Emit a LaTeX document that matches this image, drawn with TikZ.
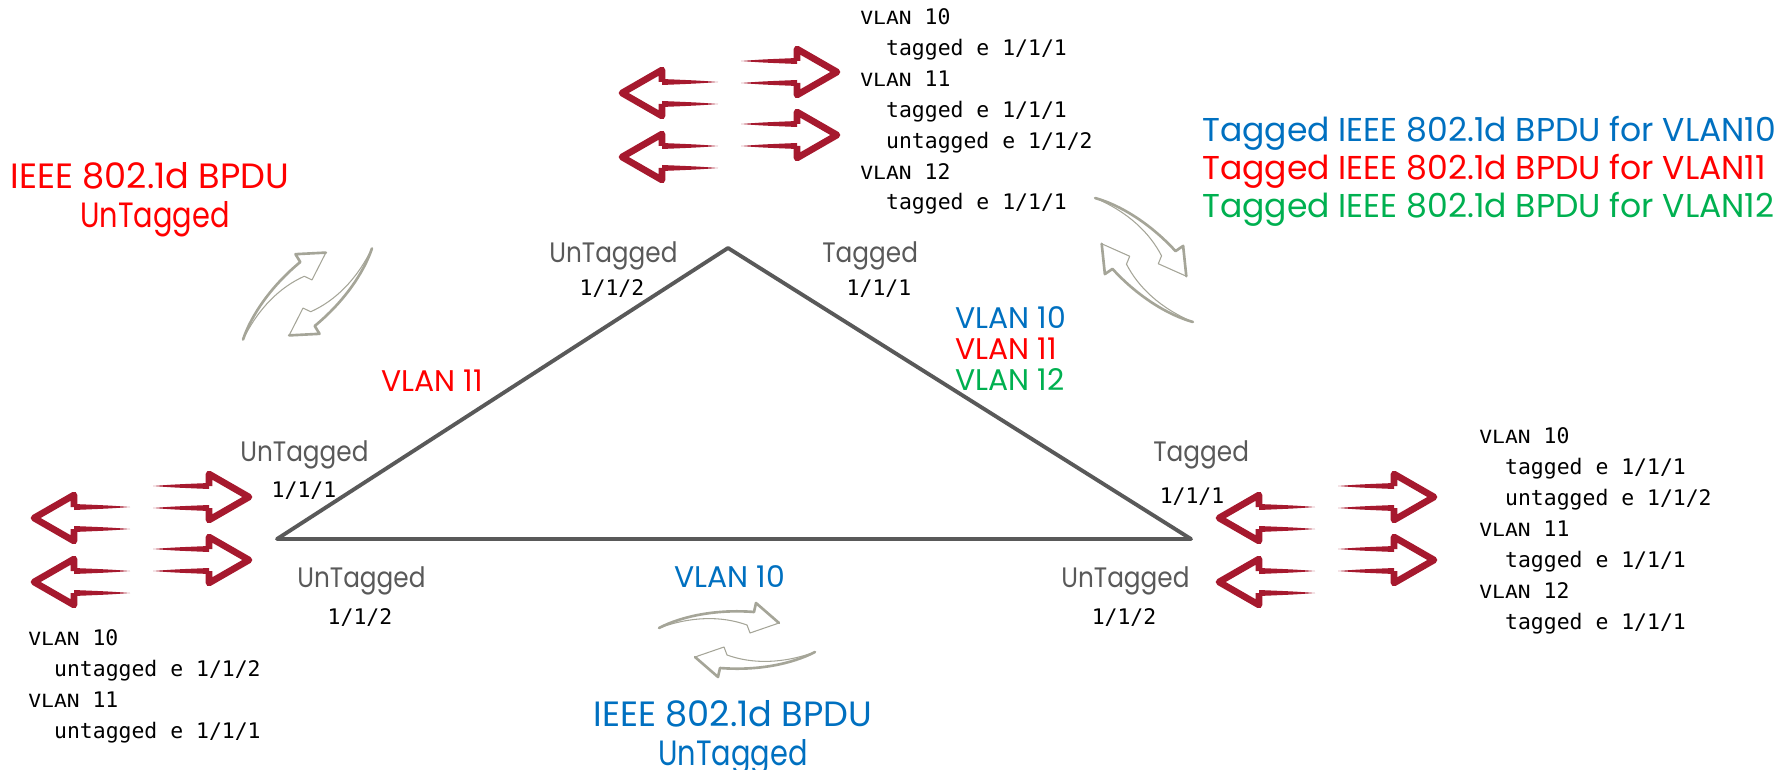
\documentclass[tikz,border=0pt]{standalone}
\usepackage{fontspec}
\setsansfont{Poppins}
\setmonofont{DejaVu Sans Mono}
\newfontfamily\vlanfont[Scale=0.85,FakeStretch=1.17]{DejaVu Sans Mono}
\newfontfamily\labelfont[FakeStretch=0.88]{Poppins}
\newfontfamily\subfont[FakeStretch=0.82]{Poppins}
\newfontfamily\wordfont{Poppins}
\newcommand{\vlanhead}[1]{{\vlanfont VLAN} #1}
\definecolor{cblue}{HTML}{0070C0}
\definecolor{cred}{HTML}{FF0000}
\definecolor{cgreen}{HTML}{00B050}
\definecolor{cgrey}{HTML}{595959}
\definecolor{cwine}{HTML}{A6192E}
\definecolor{cswoosh}{HTML}{A5A598}

\begin{document}
\begin{tikzpicture}[x=0.02cm,y=-0.02cm]

\tikzset{bigtext/.style = {inner sep=0,font=\wordfont\fontsize{18.8}{22}\selectfont}}
\tikzset{headtext/.style = {inner sep=0,anchor=base,font=\wordfont\fontsize{20}{24}\selectfont}}
\tikzset{subtext/.style = {inner sep=0,anchor=base,font=\subfont\fontsize{20}{24}\selectfont}}
\tikzset{vlantext/.style = {inner sep=0,anchor=base west,font=\wordfont\fontsize{17}{20}\selectfont}}
\tikzset{porttext/.style = {inner sep=0,text=cgrey,anchor=base west,font=\labelfont\fontsize{16}{19}\selectfont}}
\tikzset{portnum/.style = {inner sep=0,anchor=base,font=\ttfamily\fontsize{12.2}{17.64}\selectfont}}
\tikzset{config/.style = {inner sep=0,anchor=base west,align=left,font=\ttfamily\fontsize{12.2}{17.64}\selectfont}}
\tikzset{link/.style = {draw=cgrey,line width=2.2pt,line join=round,line cap=round}}
\tikzset{pics/redarrow/.style = {code={
  \fill[cwine] (-100,-11) .. controls (-80,-12.5) .. (-44,-14) -- (-44,-8) .. controls (-80,-9.5) .. (-100,-11) -- cycle;
  \fill[cwine] (-100,11) .. controls (-80,9.5) .. (-44,8) -- (-44,14) .. controls (-80,12.5) .. (-100,11) -- cycle;
  \draw[cwine,line width=3.8pt,line join=round] (-44,-11) -- (-44,-23) -- (-4,0) -- (-44,23) -- (-44,11);
}}}
\tikzset{pics/portarrows/.style = {code={
  \pic[xscale=-1] at (0,0) {redarrow};
  \pic[xscale=-1] at (0,64) {redarrow};
  \pic at (223,-21) {redarrow};
  \pic at (223,42) {redarrow};
}}}
\tikzset{pics/swooshpair/.style = {code={
  \foreach \turn in {0,180} {
    \begin{scope}[rotate=\turn]
      \draw[cswoosh,fill=white,line width=0.6pt,line join=round] (-78,-12) .. controls (-55,-24) and (-20,-31) .. (17,-28) -- (19,-37) -- (42,-17) -- (13,-7) -- (10,-15) .. controls (-15,-24) and (-45,-24) .. (-78,-12) -- cycle;
      \draw[cswoosh,line width=1.5pt,line join=round,line cap=round] (-78,-12) .. controls (-55,-24) and (-20,-31) .. (17,-28) -- (19,-37) -- (42,-17);
    \end{scope}
  }
}}}
\useasboundingbox (0,0) rectangle (1792,770);
% triangle
\coordinate (apex) at (728,248);
\coordinate (west) at (277,539);
\coordinate (east) at (1191,539);
\draw[link] (apex) -- (west) -- (east) -- cycle;
% arrows
\pic at (618,93) {portarrows};
\pic at (30,518) {portarrows};
\pic at (1215,518) {portarrows};
\pic[rotate=-43] at (1144,260) {swooshpair};
\pic[rotate=44] at (307.5,294) {swooshpair};
\pic at (737,640) {swooshpair};
% switch config
\node[config] (topcfg) at (860,210) {\vlanhead{10}\\~~tagged e 1/1/1\\\vlanhead{11}\\~~tagged e 1/1/1\\~~untagged e 1/1/2\\\vlanhead{12}\\~~tagged e 1/1/1};
\node[config] (rightcfg) at (1479,629) {\vlanhead{10}\\~~tagged e 1/1/1\\~~untagged e 1/1/2\\\vlanhead{11}\\~~tagged e 1/1/1\\\vlanhead{12}\\~~tagged e 1/1/1};
\node[config] (leftcfg) at (28,738) {\vlanhead{10}\\~~untagged e 1/1/2\\\vlanhead{11}\\~~untagged e 1/1/1};
% port labels
\node[porttext] (apexleft) at (549,263) {UnTagged};
\node[portnum] (apexleftnum) at (612,296) {1/1/2};
\node[porttext] (apexright) at (822,263) {Tagged};
\node[portnum] (apexrightnum) at (879,296) {1/1/1};
\node[porttext] (westup) at (240,461) {UnTagged};
\node[portnum] (westupnum) at (304,497) {1/1/1};
\node[porttext] (westdown) at (297,587) {UnTagged};
\node[portnum] (westdownnum) at (360,624) {1/1/2};
\node[porttext] (eastup) at (1153,461) {Tagged};
\node[portnum] (eastupnum) at (1192,503) {1/1/1};
\node[porttext] (eastdown) at (1061,587) {UnTagged};
\node[portnum] (eastdownnum) at (1124,624) {1/1/2};
% vlan labels
\node[vlantext,cblue] (vlanten) at (955,328) {VLAN 10};
\node[vlantext,cred] (vlaneleven) at (955,359) {VLAN 11};
\node[vlantext,cgreen] (vlantwelve) at (955,390) {VLAN 12};
\node[vlantext,cred] (vlanleft) at (381,391) {VLAN 11};
\node[vlantext,cblue] (vlanbottom) at (674,587) {VLAN 10};
% bpdu labels
\node[bigtext,cblue,anchor=base west] (bpduten) at (1202,142) {Tagged IEEE 802.1d BPDU for VLAN10};
\node[bigtext,cred,anchor=base west] (bpdueleven) at (1202,180) {Tagged IEEE 802.1d BPDU for VLAN11};
\node[bigtext,cgreen,anchor=base west] (bpdutwelve) at (1202,218) {Tagged IEEE 802.1d BPDU for VLAN12};
\node[headtext,cred] (bpduleft) at (150,189) {IEEE 802.1d BPDU};
\node[subtext,cred] (untagleft) at (155,228) {UnTagged};
\node[headtext,cblue] (bpdubottom) at (733,726) {IEEE 802.1d BPDU};
\node[subtext,cblue] (untagbottom) at (733,765) {UnTagged};
\end{tikzpicture}
\end{document}
